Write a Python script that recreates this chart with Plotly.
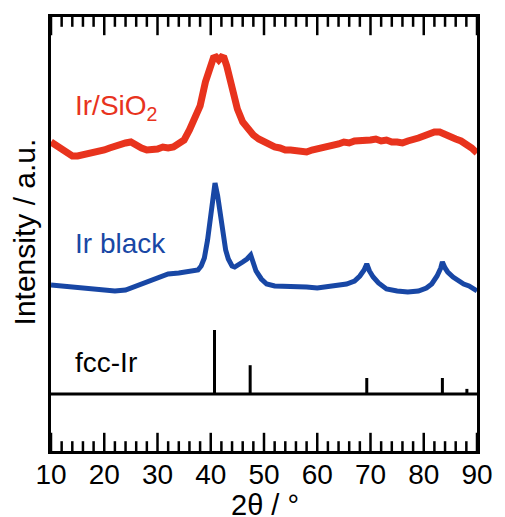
import plotly.graph_objects as go

# ---- data (2θ in degrees, intensities in arbitrary units, offset-stacked) ----
ir_sio2_2theta = [10, 11, 12, 13, 14, 15, 16, 17, 18, 19, 20, 21, 22, 23, 24, 25, 26, 27, 28, 29,
                  30, 31, 32, 33, 34, 35, 36, 37, 38, 39, 39.5, 40, 40.5, 41, 41.5, 42, 42.5, 43,
                  43.5, 44, 44.5, 45, 46, 47, 48, 49, 50, 51, 52, 53, 54, 55, 56, 57, 58, 59, 60,
                  61, 62, 63, 64, 65, 66, 67, 68, 69, 70, 71, 72, 73, 74, 75, 76, 77, 78, 79, 80,
                  81, 82, 83, 84, 85, 86, 87, 88, 89, 90]
ir_sio2_int = [252, 248, 244, 241, 238, 238, 239, 240, 241, 243, 244, 246, 248, 249, 251, 252, 248,
               246, 244, 244, 245, 247, 246, 247, 251, 254, 264, 276, 288, 312, 322, 330, 336, 337,
               334, 337, 336, 328, 317, 303, 294, 285, 272, 265, 259, 255, 252, 249, 247, 246, 244,
               244, 243, 243, 242, 244, 245, 246, 247, 249, 250, 252, 251, 253, 253, 254, 254, 255,
               253, 254, 252, 252, 251, 253, 254, 256, 258, 260, 262, 262, 259, 257, 255, 253, 250,
               246, 241]

ir_black_2theta = [10, 12, 14, 16, 18, 20, 22, 24, 26, 28, 30, 32, 34, 36, 37, 37.6, 38.2, 38.8,
                   39.4, 39.8, 40.3, 40.8, 41.3, 41.8, 42.3, 42.8, 43.3, 44, 44.5, 45.2, 46, 46.8,
                   47.5, 48, 48.5, 49.5, 50.5, 52, 54, 56, 58, 60, 62, 64, 65.5, 67, 68, 68.8, 69.3,
                   69.8, 70.5, 71.5, 73, 75, 77, 79, 80.5, 81.5, 82.5, 83.2, 83.5, 84, 84.5, 85.5,
                   86.5, 87.5, 88.5, 89.5, 90]
ir_black_int = [109, 108, 106, 105, 104, 103, 103, 104, 108, 113, 117, 120, 121, 122, 123, 124, 128,
                136, 154, 172, 196, 211, 198, 179, 159, 144, 135, 128, 127, 129, 132, 135, 139, 131,
                123, 115, 110, 108, 108, 108, 107, 106, 107, 108, 110, 113, 118, 124, 130, 123, 117,
                111, 105, 103, 102, 103, 106, 110, 118, 126, 132, 126, 122, 117, 113, 110, 108, 105,
                103]

fcc_ir_2theta = [40.7, 47.4, 69.3, 83.5, 88.1]
fcc_ir_rel_int = [100, 45, 25, 25, 8]
stick_scale = 0.64

labels = ["Ir/SiO<sub>2</sub>", "Ir black", "fcc-Ir"]
x_ticks = [10, 20, 30, 40, 50, 60, 70, 80, 90]
x_minor_ticks = [12, 14, 16, 18, 22, 24, 26, 28, 32, 34, 36, 38, 42, 44, 46, 48,
                 52, 54, 56, 58, 62, 64, 66, 68, 72, 74, 76, 78, 82, 84, 86, 88]
x_title = "2θ / °"
y_title = "Intensity / a.u."

X_RANGE = [10, 90]
Y_RANGE = [-57, 377]

RED = "#e8331d"
BLUE = "#1847a5"
FONT = "Liberation Sans, Arial, sans-serif"

fig = go.Figure()

fig.add_trace(go.Scatter(x=ir_sio2_2theta, y=ir_sio2_int, mode="lines",
                         line=dict(color=RED, width=7), showlegend=False))
fig.add_trace(go.Scatter(x=ir_black_2theta, y=ir_black_int, mode="lines",
                         line=dict(color=BLUE, width=5), showlegend=False))

sx, sy = [], []
for p, h in zip(fcc_ir_2theta, fcc_ir_rel_int):
    sx += [p, p, None]
    sy += [0, h * stick_scale, None]
fig.add_trace(go.Scatter(x=sx, y=sy, mode="lines", line=dict(color="black", width=3),
                         showlegend=False))

# inward tick marks on the bottom and top frame edges (clipped to the plot area,
# so only the inner half of each vertical marker shows)
for vals, size in [(x_ticks, 26), (x_minor_ticks, 14)]:
    for edge in Y_RANGE:
        fig.add_trace(go.Scatter(x=vals, y=[edge] * len(vals), mode="markers",
                                 cliponaxis=True, hoverinfo="skip", showlegend=False,
                                 marker=dict(symbol="line-ns", size=size, color="black",
                                             line=dict(width=2.5, color="black"))))

fig.update_xaxes(range=X_RANGE, tickmode="array", tickvals=x_ticks, showgrid=False,
                 zeroline=False, showline=True, linecolor="black", linewidth=3,
                 mirror=True, ticks="",
                 tickfont=dict(family=FONT, size=28, color="black"),
                 ticklabelstandoff=-4)
fig.update_yaxes(range=Y_RANGE, showgrid=False, zeroline=False, showticklabels=False,
                 ticks="", showline=True, linecolor="black", linewidth=3, mirror=True)

# baseline of the reference pattern (intensity 0) separating the lower strip
fig.add_hline(y=0, line=dict(color="black", width=3))

ann = [
    dict(text=labels[0], x=14.2, y=287, color=RED),
    dict(text=labels[1], x=14.2, y=151, color=BLUE),
    dict(text=labels[2], x=14.2, y=32, color="black"),
]
for a in ann:
    fig.add_annotation(text=a["text"], x=a["x"], y=a["y"], xref="x", yref="y",
                       xanchor="left", yanchor="middle", showarrow=False,
                       font=dict(family=FONT, size=28, color=a["color"]))

fig.add_annotation(text=x_title, x=0.503, y=-0.165, xref="paper", yref="paper",
                   xanchor="center", yanchor="bottom", showarrow=False,
                   font=dict(family=FONT, size=29, color="black"))
fig.add_annotation(text=y_title, x=-0.062, y=0.505, xref="paper", yref="paper",
                   xanchor="center", yanchor="middle", textangle=-90, showarrow=False,
                   font=dict(family=FONT, size=30, color="black"))

fig.update_layout(width=505, height=517, margin=dict(l=51, r=19, t=17, b=66),
                  paper_bgcolor="white", plot_bgcolor="white")

fig.write_html("out.html", config={"displayModeBar": False},
               post_script="document.body.style.margin='0';")
